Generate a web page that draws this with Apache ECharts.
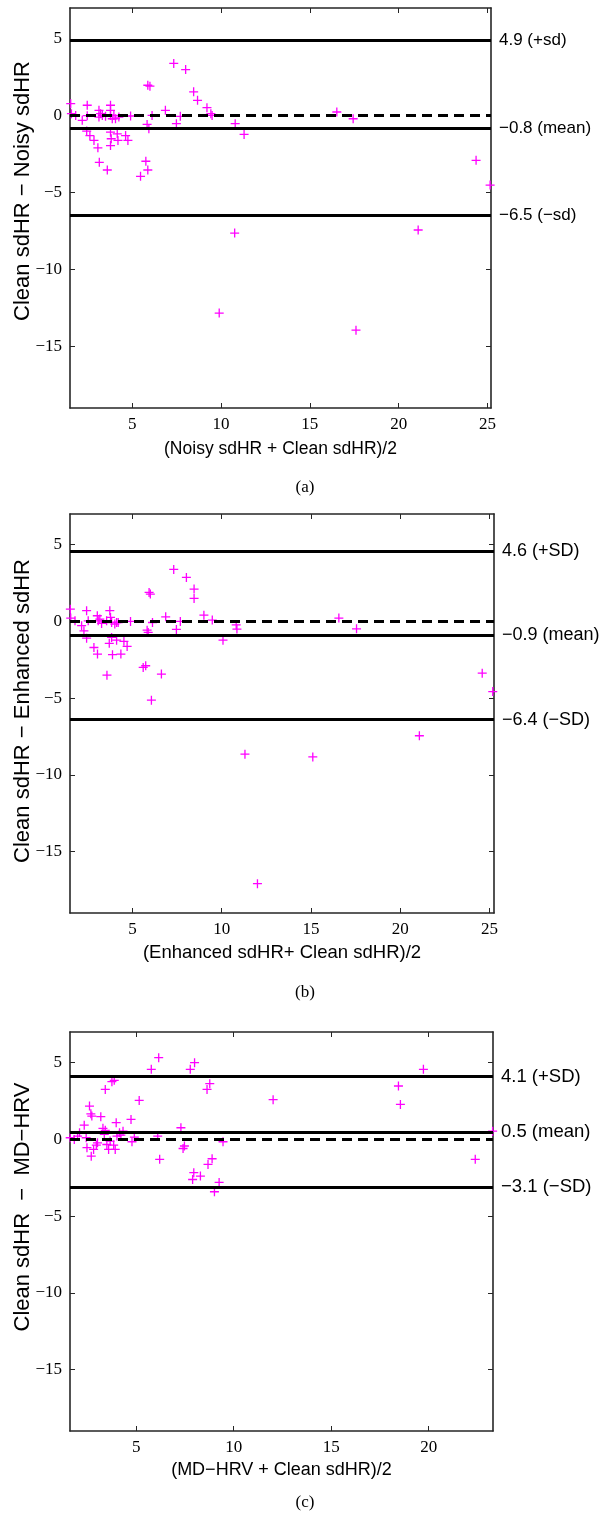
<!DOCTYPE html>
<html>
<head>
<meta charset="utf-8">
<script src="https://cdn.jsdelivr.net/npm/echarts@6/dist/echarts.min.js"></script>
<style>
  html, body { margin: 0; padding: 0; background: #fff; }
  #chart { width: 610px; height: 1522px; }
</style>
</head>
<body>
<div id="chart"></div>
<script>
// Bland–Altman agreement plots: clean sdHR vs noisy, enhanced and MD-HRV estimates.

// Panel (a): noisy vs clean
const avgA = [1.54, 1.58, 1.82, 2.19, 2.47, 2.47, 2.44, 2.62, 2.85, 3.07, 3.13, 3.13, 3.22, 3.32, 3.50, 3.60, 3.15,
  3.78, 3.78, 3.78, 3.88, 3.78, 3.82, 3.78, 3.97, 4.06, 4.25, 4.16, 4.20, 4.63, 4.76, 4.91, 5.47, 5.77, 5.88,
  5.84, 5.94, 5.88, 6.00, 6.12, 6.87, 7.34, 7.49, 7.71, 8.01, 8.46, 8.68, 9.21, 9.43, 9.50, 10.80, 11.30,
  10.77, 9.90, 17.60, 21.10, 16.52, 17.44, 24.36, 25.15];
const diffA = [0.78, 0.13, 0.02, -0.30, 0.68, 0.00, -1.00, -1.29, -1.61, -2.09, 0.35, -0.09, 0.13, 0.02, -0.04, -3.53, -3.03,
  0.68, 0.35, 0.02, -0.20, -1.07, -1.50, -1.94, 0.02, -0.20, -0.09, -1.18, -1.61, -1.29, -1.61, -0.02, -3.94, -2.96, -3.53,
  -0.57, -0.85, 1.98, 1.92, 0.02, 0.35, 3.40, -0.52, -0.04, 3.00, 1.55, 1.00, 0.52, 0.13, 0.02, -0.52, -1.22,
  -7.63, -12.83, -13.94, -7.43, 0.24, -0.20, -2.90, -4.51];
const limitsA = [4.9, -0.8, -6.5];

// Panel (b): enhanced vs clean
const avgB = [1.52, 1.54, 1.78, 2.15, 2.28, 2.43, 2.43, 2.52, 2.84, 3.04, 3.03, 3.08, 3.17, 3.27, 3.55, 3.57,
  3.73, 3.77, 3.83, 3.70, 3.83, 3.88, 4.01, 4.11, 4.20, 4.11, 4.35, 4.52, 4.70, 4.89, 5.60, 5.74, 5.82, 5.88,
  5.93, 6.00, 6.12, 6.06, 6.62, 6.86, 7.31, 7.46, 7.68, 8.02, 8.45, 8.45, 9.00, 9.47, 10.07, 10.81, 10.85,
  16.56, 17.55, 24.59, 25.18, 21.07, 11.30, 15.10, 12.00];
const diffB = [0.80, 0.22, 0.04, -0.28, -0.61, -1.09, 0.70, 0.04, -1.70, -2.13, 0.37, 0.04, 0.15, -0.13, 0.04, -3.50,
  0.70, 0.26, -0.07, -1.43, -1.04, -2.17, -0.17, -0.07, -0.07, -1.22, -2.13, -1.30, -1.63, 0.00, -3.00, -2.89, -0.57, -0.72,
  1.89, 1.78, -0.07, -5.13, -3.43, 0.30, 3.39, -0.52, 0.00, 2.87, 2.11, 1.50, 0.41, 0.09, -1.22, -0.22, -0.50,
  0.22, -0.48, -3.37, -4.57, -7.45, -8.65, -8.83, -17.09];
const limitsB = [4.6, -0.9, -6.4];

// Panel (c): MD-HRV vs clean
const avgC = [1.61, 1.82, 1.99, 2.09, 2.33, 2.43, 2.47, 2.60, 2.67, 2.72, 2.69, 2.81, 2.95, 3.01, 3.18, 3.29,
  3.41, 3.41, 3.36, 3.49, 3.58, 3.75, 3.87, 3.66, 3.84, 3.92, 3.97, 4.01, 4.14, 4.21, 4.32, 4.73, 4.78, 4.90,
  5.15, 5.77, 6.15, 6.10, 6.20, 7.29, 7.40, 7.47, 7.77, 7.99, 7.95, 7.89, 8.29, 8.63, 8.77, 8.68, 8.89, 9.01,
  9.25, 9.45, 12.02, 19.73, 18.45, 18.55, 22.39, 23.28];
const diffC = [0.11, 0.00, 0.22, 0.43, 0.93, 0.11, -0.54, 2.17, 1.67, 1.52, -1.09, -0.65, -0.37, -0.22, 1.48, 0.72,
  3.26, 0.59, 0.33, -0.33, -0.65, 3.76, 3.85, -0.11, -0.37, -0.65, 1.09, 0.22, 0.43, 0.28, 0.54, 1.30, -0.15, 0.15,
  2.54, 4.57, 5.33, 0.22, -1.30, 0.76, -0.59, -0.43, 4.57, 5.00, -2.17, -2.61, -2.39, 3.26, 3.63, -1.63, -1.26, -3.41,
  -2.80, -0.15, 2.59, 4.57, 3.48, 2.28, -1.30, 0.54];
const limitsC = [4.1, 0.5, -3.1];

// Axis extents and tick positions
const xRangeA = [1.5, 25.2];
const xRangeB = [1.5, 25.25];
const xRangeC = [1.6, 23.3];
const yRange = [-19, 7];
const xTicksAB = [5, 10, 15, 20, 25];
const xTicksC = [5, 10, 15, 20];
const yTicks = [-15, -10, -5, 0, 5];

// Text
const limitNamesA = ['+sd', 'mean', '\u2212sd'];
const limitNamesBC = ['+SD', 'mean', '\u2212SD'];
const yTitles = ['Clean sdHR \u2212 Noisy sdHR', 'Clean sdHR \u2212 Enhanced sdHR', 'Clean sdHR  \u2212  MD\u2212HRV'];
const xTitles = ['(Noisy sdHR + Clean sdHR)/2', '(Enhanced sdHR+ Clean sdHR)/2', '(MD\u2212HRV + Clean sdHR)/2'];
const captions = ['(a)', '(b)', '(c)'];

const SANS = 'Liberation Sans, Arial, Helvetica, sans-serif';
const SERIF = 'Liberation Serif, Times New Roman, serif';
const AXIS_COLOR = '#262626';
const minus = s => String(s).replace('-', '\u2212');

const panels = [
  { avg: avgA, diff: diffA, limits: limitsA, names: limitNamesA, xRange: xRangeA, xTicks: xTicksAB,
    grid: { left: 70, top: 8, width: 421, height: 400 }, captionY: 488, xGap: 32, yTitleY: 191,
    xTitleSize: 17.5, limitSize: 17 },
  { avg: avgB, diff: diffB, limits: limitsB, names: limitNamesBC, xRange: xRangeB, xTicks: xTicksAB,
    grid: { left: 70, top: 514, width: 424, height: 399 }, captionY: 993, xGap: 30, yTitleY: 711,
    xTitleSize: 18.5, limitSize: 18 },
  { avg: avgC, diff: diffC, limits: limitsC, names: limitNamesBC, xRange: xRangeC, xTicks: xTicksC,
    grid: { left: 70, top: 1032, width: 423, height: 399 }, captionY: 1503, xGap: 30, yTitleY: 1207,
    xTitleSize: 18, limitSize: 18.5 }
];

const tickStyle = { show: true, inside: true, length: 5, lineStyle: { color: AXIS_COLOR, width: 1 } };
const lineStyle = { show: true, onZero: false, lineStyle: { color: AXIS_COLOR, width: 1.6 } };

const grids = [], xAxes = [], yAxes = [], series = [], graphics = [];

panels.forEach((p, i) => {
  grids.push(p.grid);
  // bottom axis with labels
  xAxes.push({
    type: 'value', gridIndex: i, position: 'bottom', min: p.xRange[0], max: p.xRange[1],
    axisLine: lineStyle, splitLine: { show: false },
    axisTick: Object.assign({}, tickStyle, { customValues: p.xTicks }),
    axisLabel: { customValues: p.xTicks, margin: 8, fontFamily: SERIF, fontSize: 17, color: '#000', formatter: v => minus(v) },
    name: xTitles[i], nameLocation: 'middle', nameGap: p.xGap,
    nameTextStyle: { fontFamily: SANS, fontSize: p.xTitleSize, color: '#000', verticalAlign: 'top' }
  });
  // top axis, ticks only
  xAxes.push({
    type: 'value', gridIndex: i, position: 'top', min: p.xRange[0], max: p.xRange[1],
    axisLine: lineStyle, splitLine: { show: false },
    axisTick: Object.assign({}, tickStyle, { customValues: p.xTicks }),
    axisLabel: { show: false }
  });
  // left axis with labels
  yAxes.push({
    type: 'value', gridIndex: i, position: 'left', min: yRange[0], max: yRange[1],
    axisLine: lineStyle, splitLine: { show: false },
    axisTick: Object.assign({}, tickStyle, { customValues: yTicks }),
    axisLabel: { customValues: yTicks, margin: 8, fontFamily: SERIF, fontSize: 17, color: '#000', formatter: v => minus(v) }
  });
  // right axis, ticks only
  yAxes.push({
    type: 'value', gridIndex: i, position: 'right', min: yRange[0], max: yRange[1],
    axisLine: lineStyle, splitLine: { show: false },
    axisTick: Object.assign({}, tickStyle, { customValues: yTicks }),
    axisLabel: { show: false }
  });

  const lines = p.limits.map((v, k) => ({
    yAxis: v,
    lineStyle: { type: 'solid', width: 2.8, color: '#000' },
    label: {
      show: true, position: 'end', distance: 8,
      formatter: minus(v.toFixed(1)) + ' (' + p.names[k] + ')',
      fontFamily: SANS, fontSize: p.limitSize, color: '#000'
    }
  }));
  lines.push({ yAxis: 0, lineStyle: { type: [10, 6], width: 2.8, color: '#000' }, label: { show: false } });

  series.push({
    type: 'scatter',
    xAxisIndex: i * 2, yAxisIndex: i * 2,
    data: p.avg.map((x, k) => [x, p.diff[k]]),
    symbol: 'path://M0,5L10,5M5,0L5,10',
    symbolSize: 9,
    clip: false,
    itemStyle: { color: 'transparent', borderColor: '#ff00ff', borderWidth: 1.3, opacity: 1 },
    markLine: { silent: true, symbol: 'none', data: lines, animation: false },
    z: 3
  });

  // rotated y-axis title
  graphics.push({
    type: 'text', x: 23, y: p.yTitleY, rotation: Math.PI / 2,
    style: { text: yTitles[i], fontFamily: SANS, fontSize: 22, fill: '#000', align: 'center', verticalAlign: 'middle' }
  });
  // panel caption
  graphics.push({
    type: 'text', x: 305, y: p.captionY,
    style: { text: captions[i], fontFamily: SERIF, fontSize: 17, fill: '#000', align: 'center', verticalAlign: 'middle' }
  });
});

const chart = echarts.init(document.getElementById('chart'), null, { renderer: 'canvas' });
chart.setOption({
  animation: false,
  backgroundColor: '#fff',
  grid: grids,
  xAxis: xAxes,
  yAxis: yAxes,
  series: series,
  graphic: graphics
});
</script>
</body>
</html>
